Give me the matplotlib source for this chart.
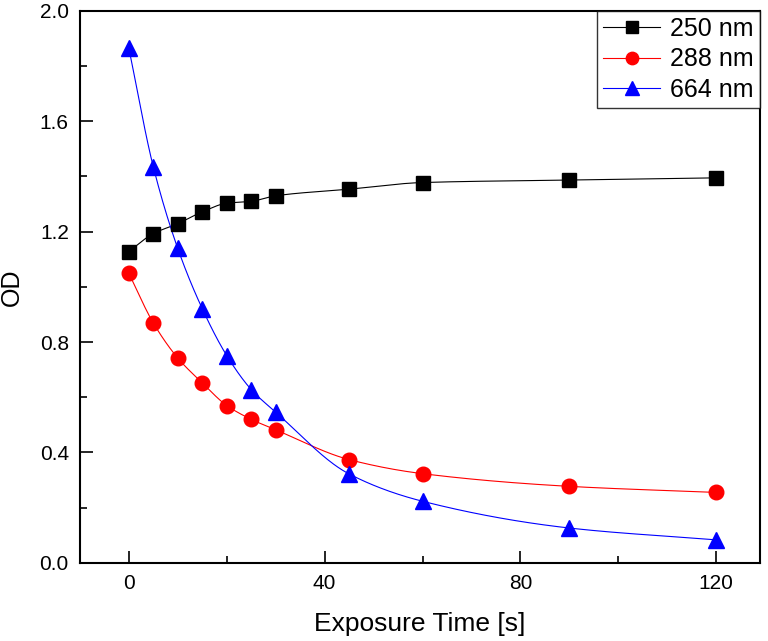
import matplotlib
matplotlib.use("Agg")
import matplotlib.pyplot as plt
from matplotlib.ticker import MultipleLocator, FormatStrFormatter
import numpy as np

plt.rcParams["font.family"] = ["Liberation Sans", "DejaVu Sans"]

# data
time_s = [0, 5, 10, 15, 20, 25, 30, 45, 60, 90, 120]
od_250 = [1.128, 1.193, 1.229, 1.272, 1.303, 1.310, 1.330, 1.354, 1.378, 1.387, 1.395]
od_288 = [1.049, 0.869, 0.742, 0.652, 0.570, 0.520, 0.482, 0.374, 0.323, 0.277, 0.255]
od_664 = [1.865, 1.435, 1.139, 0.921, 0.751, 0.628, 0.546, 0.322, 0.223, 0.126, 0.083]
labels = ["250 nm", "288 nm", "664 nm"]


def smooth(x, y, n=400):
    # monotone cubic (pchip) curve through the points
    x = np.asarray(x, float)
    y = np.asarray(y, float)
    h = np.diff(x)
    d = np.diff(y) / h
    k = len(x)
    m = np.zeros(k)
    for i in range(1, k - 1):
        if d[i - 1] * d[i] > 0:
            w1 = 2 * h[i] + h[i - 1]
            w2 = h[i] + 2 * h[i - 1]
            m[i] = (w1 + w2) / (w1 / d[i - 1] + w2 / d[i])
    m[0] = d[0]
    m[-1] = d[-1]
    xs = np.linspace(x[0], x[-1], n)
    idx = np.clip(np.searchsorted(x, xs) - 1, 0, k - 2)
    hh = h[idx]
    t = (xs - x[idx]) / hh
    h00 = 2 * t**3 - 3 * t**2 + 1
    h10 = t**3 - 2 * t**2 + t
    h01 = -2 * t**3 + 3 * t**2
    h11 = t**3 - t**2
    ys = h00 * y[idx] + h10 * hh * m[idx] + h01 * y[idx + 1] + h11 * hh * m[idx + 1]
    return xs, ys


fig = plt.figure(figsize=(7.68, 6.41), dpi=100)
ax = fig.add_axes([0.104, 0.122, 0.886, 0.861])

series = [
    (od_250, "black", "s", 10),
    (od_288, "red", "o", 10.5),
    (od_664, "blue", "^", 11.5),
]
handles = []
for (vals, col, mk, ms), lab in zip(series, labels):
    xs, ys = smooth(time_s, vals)
    ax.plot(xs, ys, color=col, lw=0.8, zorder=2)
    ax.plot(time_s, vals, linestyle="none", marker=mk, color=col, ms=ms, zorder=3)
    h, = ax.plot([], [], color=col, lw=0.8, marker=mk, ms=ms * 0.85, label=lab)
    handles.append(h)

ax.set_xlim(-10, 129)
ax.set_ylim(0, 2.0)
ax.xaxis.set_major_locator(MultipleLocator(40))
ax.xaxis.set_minor_locator(MultipleLocator(20))
ax.yaxis.set_major_locator(MultipleLocator(0.4))
ax.yaxis.set_minor_locator(MultipleLocator(0.2))
ax.yaxis.set_major_formatter(FormatStrFormatter("%.1f"))
ax.tick_params(which="both", direction="in", top=False, right=False, width=1.2)
ax.tick_params(which="major", length=9, labelsize=15, pad=8)
ax.tick_params(which="minor", length=5)
for sp in ax.spines.values():
    sp.set_linewidth(1.5)

ax.set_xlabel("Exposure Time [s]", fontsize=19, labelpad=14)
ax.set_ylabel("OD", fontsize=18, labelpad=11)

leg = ax.legend(handles=handles, loc="upper right", fontsize=18, frameon=True,
                fancybox=False, edgecolor="black", borderaxespad=0,
                handlelength=2.3, handletextpad=0.4, labelspacing=0.25,
                borderpad=0.25)
leg.get_frame().set_linewidth(1.0)

fig.savefig("out.png", dpi=100)
